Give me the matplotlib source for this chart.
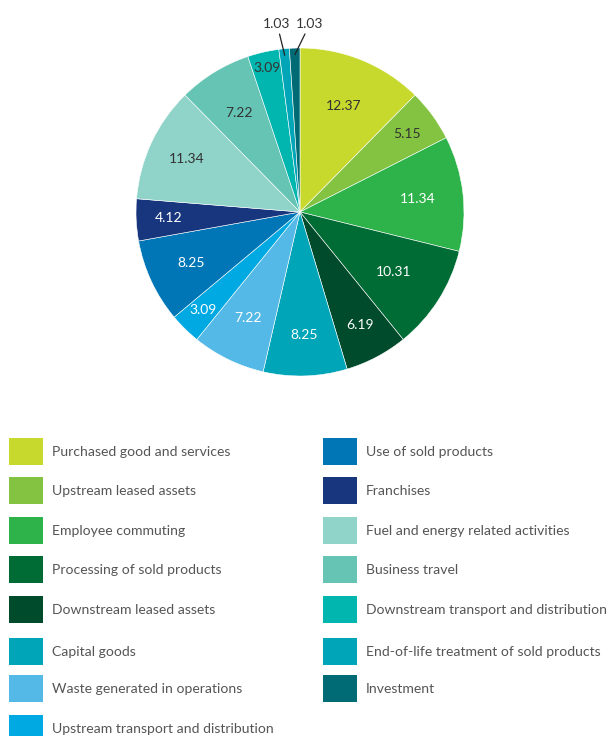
import matplotlib
matplotlib.use("Agg")
import numpy as np
import matplotlib.pyplot as plt
from matplotlib.patches import Rectangle

# データ
categories = ["Purchased good and services", "Upstream leased assets", "Employee commuting",
              "Processing of sold products", "Downstream leased assets", "Capital goods",
              "Waste generated in operations", "Upstream transport and distribution",
              "Use of sold products", "Franchises", "Fuel and energy related activities",
              "Business travel", "Downstream transport and distribution",
              "End-of-life treatment of sold products", "Investment"]
values = [12.37, 5.15, 11.34, 10.31, 6.19, 8.25, 7.22, 3.09, 8.25, 4.12, 11.34, 7.22, 3.09, 1.03, 1.03]
colors = ["#C8D92E", "#84C341", "#2DB34A", "#006C35", "#004B2B", "#00A5B8", "#54B9E6", "#00A9E2",
          "#0076B6", "#17367D", "#8FD3C9", "#65C4B4", "#00B6AE", "#00A5B8", "#006B75"]
dark_text = [True, True, False, False, False, False, False, False,
             False, False, True, True, True, False, False]
label_r = [0.70, 0.81, 0.72, 0.68, 0.78, 0.75, 0.72, 0.84, 0.73, 0.80, 0.76, 0.71, 0.90, None, None]

plt.rcParams['font.family'] = ['Lato', 'DejaVu Sans']

W, H = 610, 736
fig = plt.figure(figsize=(W / 100, H / 100), dpi=100)

# 円グラフ（中心 300,212 半径 164 px）
cx, cy, R = 300, 212, 164
ax = fig.add_axes([(cx - R) / W, 1 - (cy + R) / H, 2 * R / W, 2 * R / H])
wedges, _ = ax.pie(values, colors=colors, startangle=90, counterclock=False, radius=1,
                   wedgeprops=dict(edgecolor='white', linewidth=0.4))
ax.set_xlim(-1, 1)
ax.set_ylim(-1, 1)
ax.set_aspect('equal')
ax.axis('off')

for w, v, r, dk in zip(wedges, values, label_r, dark_text):
	ang = np.deg2rad((w.theta1 + w.theta2) / 2)
	if r is None:
		continue
	ax.text(r * np.cos(ang), r * np.sin(ang), "%.2f" % v, ha='center', va='center',
	        fontsize=10, color='#333333' if dk else 'white')

# 小さい扇形は外側にラベル
outer_pos = [(-0.14, 1.11), (0.06, 1.11)]
for w, v, (tx, ty) in zip(wedges[-2:], values[-2:], outer_pos):
	ang = np.deg2rad((w.theta1 + w.theta2) / 2)
	ax.annotate("%.2f" % v, xy=(0.96 * np.cos(ang), 0.96 * np.sin(ang)), xytext=(tx, ty),
	            ha='center', va='bottom', fontsize=10, color='#333333',
	            arrowprops=dict(arrowstyle='-', color='#222222', lw=0.9, shrinkA=1, shrinkB=0),
	            annotation_clip=False)

# 凡例（2列）
rows_y = [451, 490, 530, 569, 609, 651, 688, 728]
for i, (name, c) in enumerate(zip(categories, colors)):
	col = 0 if i < 8 else 1
	y = rows_y[i if i < 8 else i - 8]
	sx = 9 if col == 0 else 323
	fig.patches.append(Rectangle((sx / W, 1 - (y + 13.5) / H), 34 / W, 27 / H,
	                             transform=fig.transFigure, facecolor=c, edgecolor='none'))
	fig.text((sx + 43) / W, 1 - (y + 1) / H, name, ha='left', va='center', fontsize=10.1, color='#555555')

fig.savefig("out.png", dpi=100)
